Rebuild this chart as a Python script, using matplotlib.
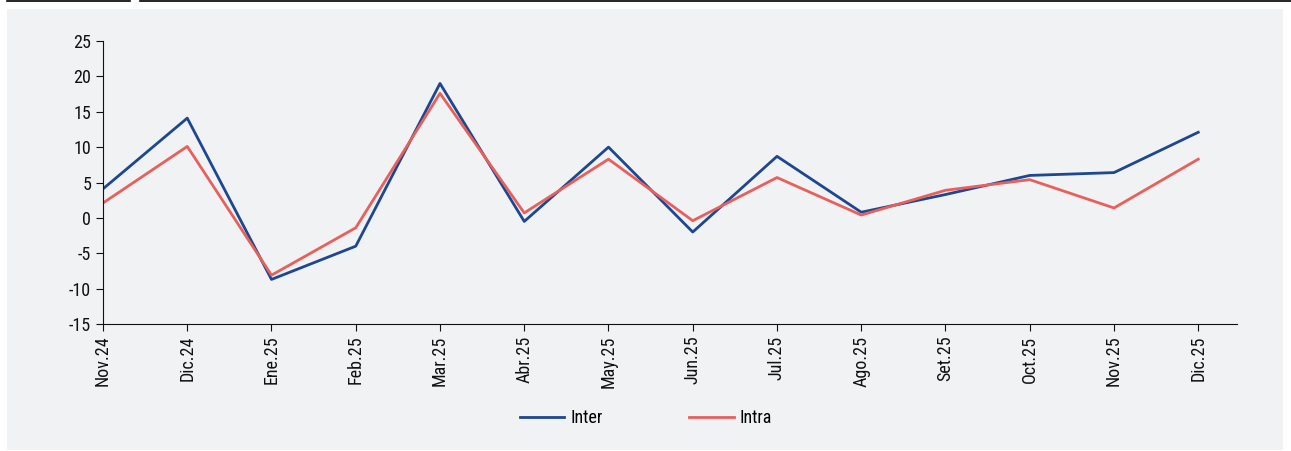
import matplotlib.pyplot as plt
import matplotlib.patches as patches
import numpy as np

plt.rcParams['font.family'] = ['Liberation Sans Narrow', 'Roboto Condensed', 'DejaVu Sans']
plt.rcParams['axes.unicode_minus'] = False

meses = ['Nov.24', 'Dic.24', 'Ene.25', 'Feb.25', 'Mar.25', 'Abr.25', 'May.25',
         'Jun.25', 'Jul.25', 'Ago.25', 'Set.25', 'Oct.25', 'Nov.25', 'Dic.25']
inter = [4.1, 14.1, -8.7, -4.0, 19.0, -0.5, 10.0, -2.0, 8.7, 0.8, 3.3, 6.0, 6.4, 12.1]
intra = [2.1, 10.1, -8.1, -1.4, 17.6, 0.7, 8.3, -0.4, 5.7, 0.4, 3.9, 5.4, 1.4, 8.3]

fig = plt.figure(figsize=(12.91, 4.51), dpi=100)
fig.patch.set_facecolor('white')

# fondo gris y linea superior
fig.add_artist(patches.Rectangle((7/1291, 0.002), 1276/1291, 1 - 9/451 - 0.002,
                                 transform=fig.transFigure, facecolor='#f1f2f4',
                                 edgecolor='none', zorder=0))
fig.add_artist(plt.Line2D([7/1291, 130/1291], [0.998, 0.998], color='black', lw=1.2))
fig.add_artist(plt.Line2D([140/1291, 1.0], [0.998, 0.998], color='black', lw=1.2))

ax = fig.add_axes([103/1291, 1 - 324/451, (1237 - 103)/1291, (324 - 41)/451])
ax.set_facecolor('none')

x = np.arange(len(meses))
ax.plot(x, inter, color='#1d4791', lw=2.0, label='Inter')
ax.plot(x, intra, color='#e8605c', lw=2.0, label='Intra')

ax.set_xlim(0, 13.46)
ax.set_ylim(-15, 25)
ax.set_yticks(range(-15, 30, 5))
ax.set_xticks(x)
ax.set_xticklabels(meses, rotation=90)
ax.tick_params(direction='out', length=5, width=0.8, labelsize=13, colors='#111111')
for s in ['top', 'right']:
    ax.spines[s].set_visible(False)
for s in ['left', 'bottom']:
    ax.spines[s].set_linewidth(0.8)
    ax.spines[s].set_color('#111111')

fig.legend(loc='center', bbox_to_anchor=(646/1291, 1 - 418/451), ncol=2,
           frameon=False, fontsize=13, handlelength=2.45, columnspacing=4.8,
           handletextpad=0.35)

plt.savefig('out.png', dpi=100)
